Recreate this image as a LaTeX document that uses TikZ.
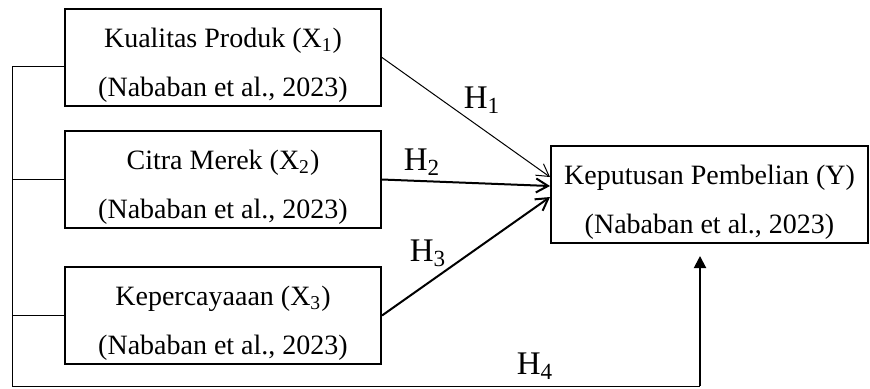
\documentclass[tikz,border=0pt]{standalone}
\usepackage{fontspec}
\setmainfont{Liberation Serif}
\usepackage{tikz}
\usetikzlibrary{positioning,arrows.meta}
\tikzset{varbox/.style={rectangle,draw,line width=1pt,minimum width=158pt,minimum height=48.5pt,
		inner sep=0pt,align=center,font=\fontsize{14}{24.5}\selectfont},
	 hlabel/.style={inner sep=0pt,font=\fontsize{16.5}{18}\selectfont},
	 thinlink/.style={line width=0.5pt},
	 hyp/.style={line width=1pt,-{Straight Barb[length=6pt,width=7pt]}},
	 node distance = 12pt
	 }
\newcommand{\topgap}{\rule{0pt}{17pt}}

\begin{document}
\begin{tikzpicture}[x=0.5pt,y=-0.5pt] % research model
        \useasboundingbox (0,0) rectangle (870,388);
        \node[varbox] (x1) at (223,57.5) {\topgap Kualitas Produk (X\textsubscript{1})\\(Nababan et al., 2023)};
        \node[varbox] (x2) [below=11.5pt of x1] {\topgap Citra Merek (X\textsubscript{2})\\(Nababan et al., 2023)};
        \node[varbox] (x3) [below=18.5pt of x2] {\topgap Kepercayaaan (X\textsubscript{3})\\(Nababan et al., 2023)};
        \node[varbox,minimum width=158.5pt] (y) at (709.5,194.5) {\topgap Keputusan Pembelian (Y)\\(Nababan et al., 2023)};
        \coordinate (c) at (12,386);
        \coordinate (h4tip) at ([xshift=-4.75pt,yshift=-6pt]y.south);
        % hypotheses
        \draw[hyp,line width=0.5pt] (x1.east) -- ([yshift=8.75pt]y.west);
        \draw[hyp] (x2.east) -- ([yshift=4.25pt]y.west);
        \draw[hyp] (x3.east) -- ([yshift=-1.25pt]y.west);
        \node[hlabel] (h1) at (482,100) {H\textsubscript{1}};
        \node[hlabel] (h2) at (422,162) {H\textsubscript{2}};
        \node[hlabel] (h3) at (428,253) {H\textsubscript{3}};
        \node[hlabel] (h4) at (535,366) {H\textsubscript{4}};
        % simultaneous
        \draw[thinlink] ([yshift=-4.25pt]x1.west) -| (c);
        \draw[thinlink] (x2.west) -- (x2.west -| c);
        \draw[thinlink] (x3.west) -- (x3.west -| c);
        \draw[thinlink] (c) -- (c -| h4tip);
        \draw[line width=1pt,-{Triangle[length=6pt,width=6pt]}] (c -| h4tip) -- (h4tip);
\end{tikzpicture}
\end{document}
